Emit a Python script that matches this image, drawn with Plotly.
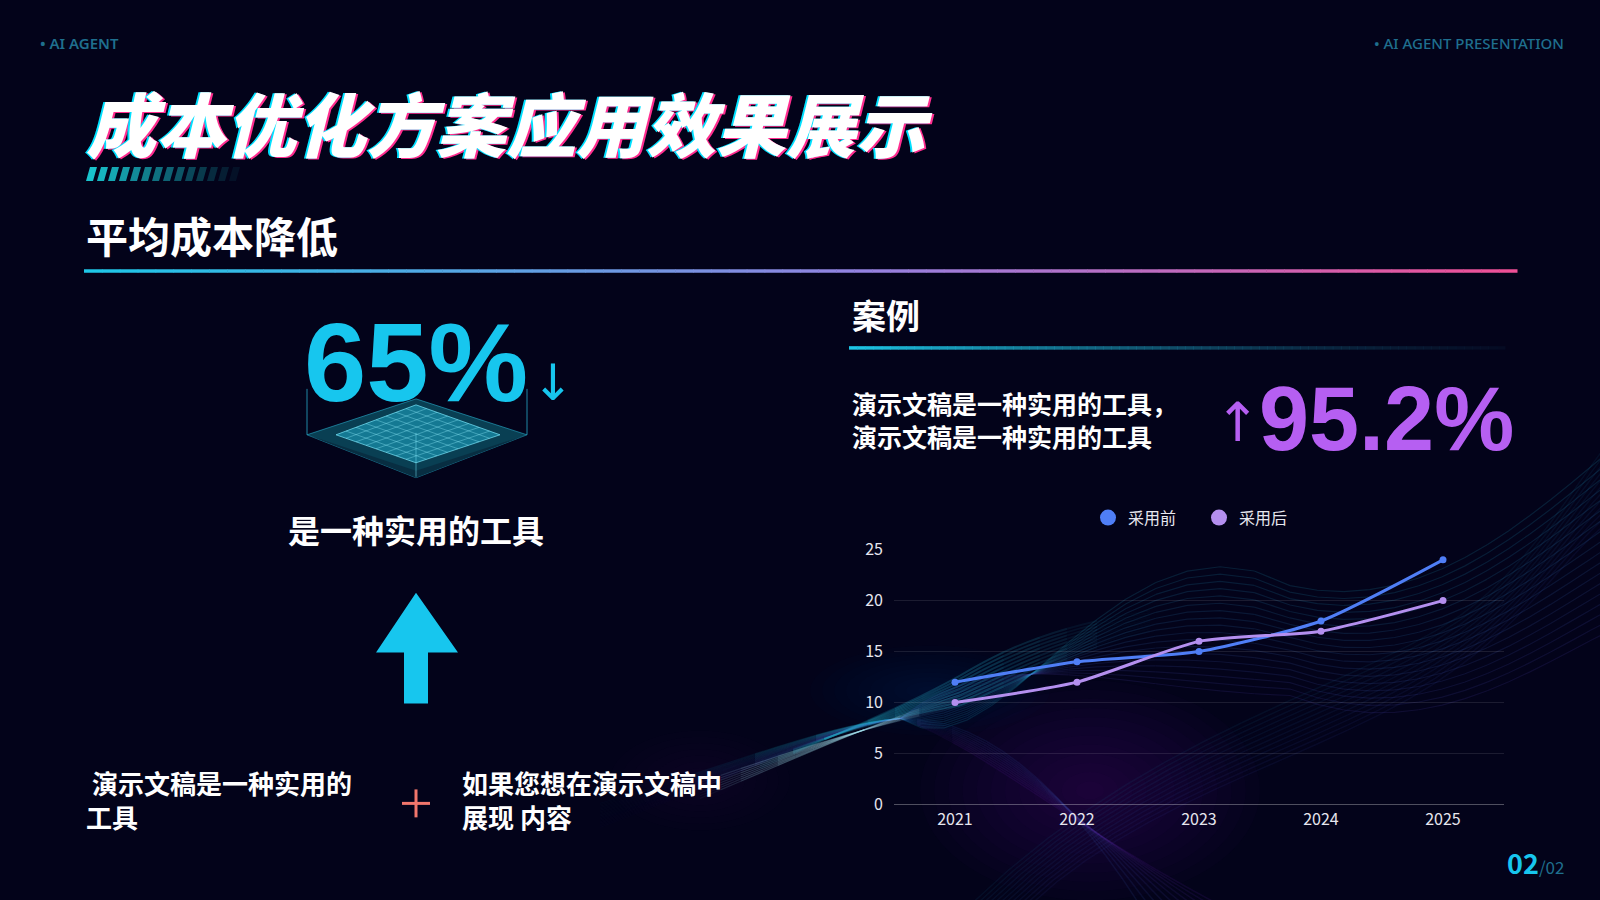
import plotly.graph_objects as go

# ---------------- data ----------------
years = ["2021", "2022", "2023", "2024", "2025"]
before_vals = [12, 14, 15, 18, 24]
after_vals = [10, 12, 16, 17, 20]
series_names = ["采用前", "采用后"]
y_ticks = [0, 5, 10, 15, 20, 25]

title_text = "成本优化方案应用效果展示"
subtitle_text = "平均成本降低"
big_left = "65%"
big_right = "95.2%"

W, H = 1600, 900
BG = "#03031A"
CYAN = "#17C6EE"
PURPLE = "#B65FF2"
BLUE_LINE = "#4F7EF6"
LAV_LINE = "#B48FEF"
CJK = "Noto Sans CJK SC"


def X(x):
    return x / W


def Y(y):
    # vertical placement (pixel row measured on the reference -> paper fraction)
    r = 1.0262 * y - 12.0
    return 1 - r / H


def lerp_col(c1, c2, t, a=1.0):
    r = int(c1[0] + (c2[0] - c1[0]) * t)
    g = int(c1[1] + (c2[1] - c1[1]) * t)
    b = int(c1[2] + (c2[2] - c1[2]) * t)
    return f"rgba({r},{g},{b},{a:.3f})"


def path(pts, close=True):
    s = "M " + " L ".join(f"{X(x):.5f},{Y(y):.5f}" for x, y in pts)
    return s + (" Z" if close else "")


def sample_bez(pts, n=14):
    out = [pts[0]]
    for k in range(1, len(pts), 3):
        p0 = out[-1]
        p1, p2, p3 = pts[k:k + 3]
        for j in range(1, n + 1):
            t = j / n
            u = 1 - t
            x = u ** 3 * p0[0] + 3 * u * u * t * p1[0] + 3 * u * t * t * p2[0] + t ** 3 * p3[0]
            y = u ** 3 * p0[1] + 3 * u * u * t * p1[1] + 3 * u * t * t * p2[1] + t ** 3 * p3[1]
            out.append((x, y))
    return out


shapes = []
annotations = []


def faded(pts, rgb, base_a, width, chunks=10, fin=True, fout=True, edge=0.3):
    P = sample_bez(pts)
    m = len(P)
    for k in range(chunks):
        i0 = int(k * (m - 1) / chunks)
        i1 = int((k + 1) * (m - 1) / chunks)
        tc = (k + 0.5) / chunks
        a = base_a
        if fin:
            a *= min(1.0, tc / edge)
        if fout:
            a *= min(1.0, (1 - tc) / edge)
        shapes.append(dict(type="path", xref="paper", yref="paper", path=path(P[i0:i1 + 1], close=False),
                           line=dict(color=f"rgba({rgb[0]},{rgb[1]},{rgb[2]},{a:.3f})", width=width),
                           layer="below"))


def glow(cx_, cy_, rx, ry, rgb, steps=10, a=0.018):
    for k in range(steps):
        f = 1 - k / steps
        shapes.append(dict(type="circle", xref="paper", yref="paper",
                           x0=X(cx_ - rx * f), x1=X(cx_ + rx * f), y0=Y(cy_ + ry * f), y1=Y(cy_ - ry * f),
                           fillcolor=f"rgba({rgb[0]},{rgb[1]},{rgb[2]},{a})", line=dict(width=0), layer="below"))


glow(1090, 790, 170, 110, (110, 30, 190), steps=12, a=0.022)
glow(930, 690, 120, 45, (30, 190, 220), steps=10, a=0.012)
glow(700, 780, 90, 50, (150, 40, 150), steps=8, a=0.015)

# ---------------- background waves ----------------
N = 18
for i in range(N):
    t = i / (N - 1) - 0.5
    pts = [
        (600, 815 + 24 * t),
        (740, 768 + 14 * t), (830, 725 + 4 * t), (900, 718),
        (1000, 712 - 150 * t), (1120, 590 + 200 * t), (1290, 640 + 110 * t),
        (1420, 680 + 130 * t), (1520, 600 + 150 * t), (1610, 540 + 180 * t),
    ]
    c = (int(40 + 50 * (i / (N - 1))), int(200 - 120 * (i / (N - 1))), int(230 - 30 * (i / (N - 1))))
    faded(pts, c, 0.14, 1.2, chunks=14, fin=True, fout=False, edge=0.25)

# bright cyan ribbon rising into the chart
for i in range(10):
    t = i / 9 - 0.5
    pts = [(760, 765 + 8 * t), (840, 730), (900, 712 - 6 * t), (960, 690 - 30 * t),
           (1010, 665 - 40 * t), (1060, 640 - 30 * t), (1150, 620 - 20 * t)]
    faded(pts, (40, 200, 225), 0.22, 2, chunks=12, fin=True, fout=True, edge=0.4)

for i in range(12):
    t = i / 11 - 0.5
    pts = [(1000 + 60 * t, 905), (1150, 760 + 60 * t), (1350, 720 + 60 * t), (1460, 640 + 50 * t),
           (1530, 590 + 50 * t), (1570, 520 + 60 * t), (1610, 480 + 80 * t)]
    c = (int(30 + 30 * i / 11), int(120 - 40 * i / 11), int(160 + 20 * i / 11))
    faded(pts, c, 0.10, 1.5, chunks=8, fin=False, fout=False)

for i in range(10):
    t = i / 9 - 0.5
    pts = [(900, 718), (980, 730 + 30 * t), (1060, 800 + 40 * t), (1180 + 80 * t, 905)]
    c = (int(60 + 60 * i / 9), int(110 - 60 * i / 9), int(210 - 10 * i / 9))
    faded(pts, c, 0.11, 1.5, chunks=8, fin=True, fout=False, edge=0.3)

for i in range(7):
    t = i / 6 - 0.5
    pts = [(700, 790 + 16 * t), (800, 752 + 8 * t), (860, 728), (960, 700 - 12 * t)]
    faded(pts, (170, 235, 250), 0.32, 1.2, chunks=10, fin=True, fout=True, edge=0.35)

# ---------------- title dashes ----------------
n_d = 14
for i in range(n_d):
    x0 = 86 + i * 11
    a = max(0.08, 1 - i / n_d)
    shapes.append(dict(type="path", xref="paper", yref="paper",
                       path=path([(x0, 180), (x0 + 4, 166), (x0 + 11, 166), (x0 + 7, 180)]),
                       fillcolor=f"rgba(25,195,205,{a:.2f})", line=dict(width=0), layer="below"))

# ---------------- gradient line under subtitle ----------------
segs = 80
x_start, x_end = 84, 1517
stops = [(0.0, (30, 200, 232)), (0.55, (150, 130, 225)), (1.0, (240, 80, 150))]
for i in range(segs):
    t = (i + 0.5) / segs
    for j in range(len(stops) - 1):
        if stops[j][0] <= t <= stops[j + 1][0]:
            tt = (t - stops[j][0]) / (stops[j + 1][0] - stops[j][0])
            col = lerp_col(stops[j][1], stops[j + 1][1], tt)
    xa = x_start + (x_end - x_start) * i / segs
    xb = x_start + (x_end - x_start) * (i + 1) / segs + 0.5
    shapes.append(dict(type="line", xref="paper", yref="paper", x0=X(xa), x1=X(xb),
                       y0=Y(270), y1=Y(270), line=dict(color=col, width=3.5)))

# 案例 underline (cyan fading out)
for i in range(segs):
    t = (i + 0.5) / segs
    xa = 849 + (1505 - 849) * i / segs
    xb = 849 + (1505 - 849) * (i + 1) / segs + 0.5
    shapes.append(dict(type="line", xref="paper", yref="paper", x0=X(xa), x1=X(xb),
                       y0=Y(347), y1=Y(347),
                       line=dict(color=lerp_col((30, 200, 232), (20, 60, 90), t, 1 - 0.85 * t), width=3.5)))

# ---------------- isometric platform under 65% ----------------
cx = 416
shapes.append(dict(type="path", xref="paper", yref="paper",
                   path=path([(307, 434), (cx, 398), (527, 434), (cx, 477)]),
                   fillcolor="rgba(10,70,90,0.9)", line=dict(color="rgba(40,170,200,0.6)", width=1), layer="below"))
shapes.append(dict(type="path", xref="paper", yref="paper",
                   path=path([(307, 434), (cx, 470), (527, 434), (cx, 477)]),
                   fillcolor="rgba(8,45,65,0.95)", line=dict(width=0), layer="below"))
shapes.append(dict(type="path", xref="paper", yref="paper",
                   path=path([(336, 434), (cx, 404), (500, 434), (cx, 462)]),
                   fillcolor="rgba(30,170,200,0.55)", line=dict(color="rgba(120,230,250,0.7)", width=1), layer="below"))
L, T, R, B = (336, 434), (cx, 404), (500, 434), (cx, 462)
ng = 8
for k in range(1, ng):
    f = k / ng
    a0 = (L[0] + (T[0] - L[0]) * f, L[1] + (T[1] - L[1]) * f)
    a1 = (B[0] + (R[0] - B[0]) * f, B[1] + (R[1] - B[1]) * f)
    shapes.append(dict(type="line", xref="paper", yref="paper", x0=X(a0[0]), y0=Y(a0[1]),
                       x1=X(a1[0]), y1=Y(a1[1]), line=dict(color="rgba(150,240,255,0.35)", width=1)))
    b0 = (L[0] + (B[0] - L[0]) * f, L[1] + (B[1] - L[1]) * f)
    b1 = (T[0] + (R[0] - T[0]) * f, T[1] + (R[1] - T[1]) * f)
    shapes.append(dict(type="line", xref="paper", yref="paper", x0=X(b0[0]), y0=Y(b0[1]),
                       x1=X(b1[0]), y1=Y(b1[1]), line=dict(color="rgba(150,240,255,0.35)", width=1)))
for xv in (307, 527):
    shapes.append(dict(type="line", xref="paper", yref="paper", x0=X(xv), x1=X(xv),
                       y0=Y(388), y1=Y(434), line=dict(color="rgba(40,170,200,0.8)", width=1)))
shapes.append(dict(type="line", xref="paper", yref="paper", x0=X(cx), x1=X(cx),
                   y0=Y(432), y1=Y(476), line=dict(color="rgba(120,230,250,0.5)", width=1)))

# ---------------- big up arrow ----------------
shapes.append(dict(type="path", xref="paper", yref="paper",
                   path=path([(cx, 592), (458, 652), (428, 652), (428, 703),
                              (404, 703), (404, 652), (376, 652)]),
                   fillcolor=CYAN, line=dict(width=0)))

# coral plus sign
shapes.append(dict(type="line", xref="paper", yref="paper", x0=X(402), x1=X(430),
                   y0=Y(803), y1=Y(803), line=dict(color="#F2766C", width=3)))
shapes.append(dict(type="line", xref="paper", yref="paper", x0=X(416), x1=X(416),
                   y0=Y(789), y1=Y(817), line=dict(color="#F2766C", width=3)))


# ---------------- text ----------------
def txt(x, y, s, size, color="white", family=CJK, weight=700, xa="left", ya="middle", style="normal", shadow=None):
    f = dict(family=family, size=size, color=color, weight=weight, style=style)
    if shadow:
        f["shadow"] = shadow
    annotations.append(dict(x=X(x), y=Y(y), xref="paper", yref="paper", text=s, showarrow=False,
                            xanchor=xa, yanchor=ya, align=xa if xa != "center" else "center", font=f))


txt(38, 42, "• AI AGENT", 15, color="#1F6F8E", family="Noto Sans", weight=600)
txt(1566, 42, "• AI AGENT PRESENTATION", 15, color="#1F6F8E", family="Noto Sans", weight=500, xa="right")

txt(84, 120, title_text, 70, color="white", weight=900, style="italic",
    shadow="-2px 0px 0px #00E0FF, 2px 1px 0px #FF2D8F")

txt(84, 233, subtitle_text, 42, weight=700)

txt(416, 362, big_left, 112, color=CYAN, family="Liberation Sans", weight=700, xa="center")
txt(553, 382, "↓", 50, color=CYAN, family="DejaVu Sans", weight=400, xa="center")
txt(416, 528, "是一种实用的工具", 32, weight=700, xa="center")

txt(84, 799, " 演示文稿是一种实用的<br>工具", 26, weight=700)
txt(460, 799, "如果您想在演示文稿中<br>展现 内容", 26, weight=700)

txt(850, 314, "案例", 34, weight=700)
txt(850, 419, "演示文稿是一种实用的工具，<br>演示文稿是一种实用的工具", 25, weight=700)
txt(1237, 422, "↑", 54, color=PURPLE, family="DejaVu Sans", weight=400, xa="center")
txt(1516, 418, big_right, 90, color=PURPLE, family="Liberation Sans", weight=700, xa="right")

annotations.append(dict(x=X(1566), y=Y(862), xref="paper", yref="paper", showarrow=False,
                        xanchor="right", yanchor="middle",
                        text="<span style='font-size:27px;color:#17C6EE;font-weight:700'>02</span>"
                             "<span style='font-size:17px;color:#1F6F8E'>/02</span>",
                        font=dict(family=CJK, size=17, color="#1F6F8E")))

# ---------------- chart ----------------
fig = go.Figure()
fig.add_trace(go.Scatter(x=years, y=before_vals, name=series_names[0], mode="lines+markers",
                         line=dict(color=BLUE_LINE, width=3, shape="spline", smoothing=0.6),
                         marker=dict(size=7, color=BLUE_LINE), showlegend=False))
fig.add_trace(go.Scatter(x=years, y=after_vals, name=series_names[1], mode="lines+markers",
                         line=dict(color=LAV_LINE, width=3, shape="spline", smoothing=0.6),
                         marker=dict(size=7, color=LAV_LINE), showlegend=False))
fig.add_trace(go.Scatter(x=[None], y=[None], name=series_names[0], mode="markers",
                         marker=dict(size=16, color=BLUE_LINE)))
fig.add_trace(go.Scatter(x=[None], y=[None], name=series_names[1], mode="markers",
                         marker=dict(size=16, color=LAV_LINE)))

fig.update_layout(
    width=W, height=H,
    margin=dict(l=0, r=0, t=0, b=0),
    paper_bgcolor=BG, plot_bgcolor="rgba(0,0,0,0)",
    shapes=shapes, annotations=annotations,
    showlegend=True,
    legend=dict(orientation="h", x=X(1199), y=Y(517), xanchor="center", yanchor="middle",
                font=dict(family=CJK, size=16, color="#E8E8F0"), bgcolor="rgba(0,0,0,0)",
                itemwidth=30, entrywidth=66, entrywidthmode="pixels"),
    xaxis=dict(domain=[X(894), X(1504)], type="category", range=[-0.5, 4.5],
               showgrid=False, showline=False, zeroline=False, ticks="", ticklabelstandoff=4,
               tickfont=dict(family=CJK, size=16, color="#E6E6EE")),
    yaxis=dict(domain=[Y(804), Y(549)], range=[0, 25], tickvals=y_ticks,
               showgrid=True, gridcolor="rgba(255,255,255,0.10)", gridwidth=1,
               zeroline=True, zerolinecolor="rgba(255,255,255,0.30)", zerolinewidth=1,
               showline=False, ticks="", ticklabelstandoff=10,
               tickfont=dict(family=CJK, size=16, color="#E6E6EE")),
)

fig.write_html(
    "out.html",
    config={"displayModeBar": False},
    post_script=(
        "var gd=document.getElementById('{plot_id}');"
        "document.documentElement.style.overflow='hidden';"
        "document.documentElement.style.background='#03031A';"
        "document.body.style.margin='0';document.body.style.padding='0';"
        "document.body.style.overflow='hidden';document.body.style.height='900px';"
        "document.body.style.background='#03031A';"
        "gd.parentElement.style.fontSize='0';gd.parentElement.style.lineHeight='0';"
        "gd.style.position='absolute';gd.style.left='0';gd.style.top='0';"
    ),
)
